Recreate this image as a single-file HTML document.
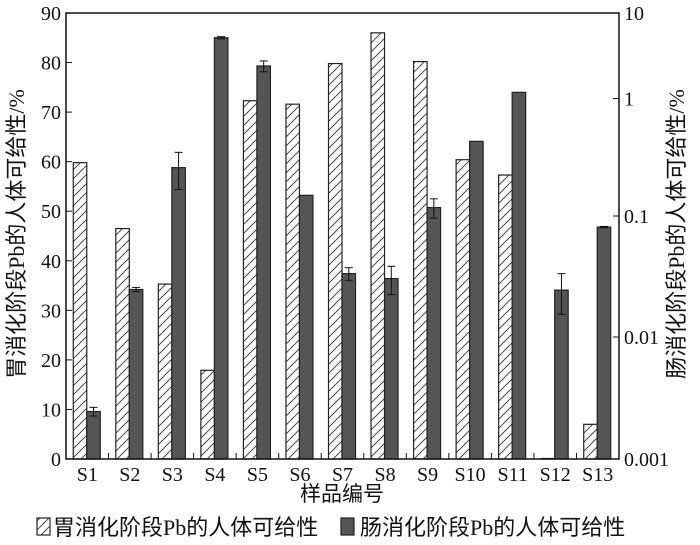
<!DOCTYPE html>
<html><head><meta charset="utf-8"><style>
html,body{margin:0;padding:0;background:#fff;}
svg{display:block;font-family:"Liberation Serif","Noto Serif CJK SC",serif;}
.cjk{font-family:"Liberation Serif","Noto Sans CJK SC",sans-serif;}
</style></head><body>
<svg id="chart" width="700" height="545" viewBox="0 0 700 545" xmlns="http://www.w3.org/2000/svg">
<defs>
<pattern id="hatch" patternUnits="userSpaceOnUse" width="9" height="9">
<path d="M-2,11 L11,-2 M-2,2 L2,-2 M7,11 L11,7" stroke="#333" stroke-width="0.9"/>
</pattern>
</defs>
<g id="plot"></g>
</svg>
<script>
const categories = ["S1","S2","S3","S4","S5","S6","S7","S8","S9","S10","S11","S12","S13"];
const stomachValues = [59.8,46.5,35.3,17.9,72.3,71.6,79.8,86.0,80.2,60.4,57.3,0.1,7.0];
const intestineValues = [0.00245,0.0247,0.258,5.14,2.4,0.15,0.0334,0.0304,0.118,0.432,1.18,0.0244,0.081];
const intestineErrors = [0.0002,0.001,0.09,0.15,0.35,0,0.004,0.008,0.022,0,0,0.009,0.001];
const leftTicks = [0,10,20,30,40,50,60,70,80,90];
const rightTicks = [0.001,0.01,0.1,1,10];
const rightTickLabels = ["0.001","0.01","0.1","1","10"];

const NS="http://www.w3.org/2000/svg";
const g=document.getElementById('plot');
const X0=66,X1=619,Y0=459,Y1=13;
const rightTickPos=[459,337,216,98.5,13];
function mk(t,a,p){const e=document.createElementNS(NS,t);for(const k in a)e.setAttribute(k,a[k]);(p||g).appendChild(e);return e;}
function yLeft(v){return Y0-(v-0)/(90-0)*(Y0-Y1);}
function yRight(v){
  const lv=Math.log10(Math.max(v,1e-6));
  for(let i=0;i<rightTicks.length-1;i++){
    const a=Math.log10(rightTicks[i]),b=Math.log10(rightTicks[i+1]);
    if(lv<=b||i===rightTicks.length-2){return rightTickPos[i]+(lv-a)/(b-a)*(rightTickPos[i+1]-rightTickPos[i]);}
  }
}
const gw=(X1-X0)/categories.length;
function xc(i){return X0+gw*(i+0.5);}
const bw=13.5;

categories.forEach((c,i)=>{
  const cx=xc(i);
  const ys=yLeft(stomachValues[i]);
  const r1=mk('rect',{x:cx-bw-0.5,y:ys,width:bw,height:Y0-ys,fill:'url(#hatch)',stroke:'#222','stroke-width':1.2});
  
  
  const yi=yRight(intestineValues[i]);
  const r2=mk('rect',{x:cx-0.5,y:yi,width:bw,height:Y0-yi,fill:'#555',stroke:'#222','stroke-width':1.2});
  
  
  const e=intestineErrors[i];
  if(e>0){
    const ex=cx-0.5+bw/2;
    const yt=yRight(intestineValues[i]+e),yb=yRight(Math.max(intestineValues[i]-e,1e-6));
    const eg=mk('g',{stroke:'#111','stroke-width':1});
    
    
    mk('line',{x1:ex,x2:ex,y1:yt,y2:yb},eg);
    mk('line',{x1:ex-4,x2:ex+4,y1:yt,y2:yt},eg);
    mk('line',{x1:ex-4,x2:ex+4,y1:yb,y2:yb},eg);
  }
  const t=mk('text',{x:cx,y:481,'text-anchor':'middle','font-size':20,fill:'#111'});
  t.textContent=c;
  
  
  if(i>0){mk('line',{x1:X0+gw*i,x2:X0+gw*i,y1:Y0,y2:Y0-6,stroke:'#111','stroke-width':1});}
});

const frame=mk('rect',{x:X0,y:Y1,width:X1-X0,height:Y0-Y1,fill:'none',stroke:'#111','stroke-width':1.5});



leftTicks.forEach(v=>{
  const y=yLeft(v);
  mk('line',{x1:X0,x2:X0+6,y1:y,y2:y,stroke:'#111','stroke-width':1});
  const t=mk('text',{x:X0-5,y:y+7,'text-anchor':'end','font-size':20,fill:'#111'});
  t.textContent=v;
  
  
});
rightTicks.forEach((v,i)=>{
  const y=yRight(v);
  mk('line',{x1:X1,x2:X1-6,y1:y,y2:y,stroke:'#111','stroke-width':1});
  const t=mk('text',{x:X1+5,y:y+7,'font-size':20,fill:'#111'});
  t.textContent=rightTickLabels[i];
  
  
});

let t=mk('text',{x:0,y:0,'text-anchor':'middle','font-size':22,fill:'#111',class:'cjk',transform:'translate(24,234) rotate(-90)'});
t.textContent='胃消化阶段Pb的人体可给性/%';


t=mk('text',{x:0,y:0,'text-anchor':'middle','font-size':22,fill:'#111',class:'cjk',transform:'translate(684,234) rotate(-90)'});
t.textContent='肠消化阶段Pb的人体可给性/%';


t=mk('text',{x:342,y:501,'text-anchor':'middle','font-size':21,fill:'#111',class:'cjk'});
t.textContent='样品编号';



const lg=mk('g',{});


mk('rect',{x:37,y:518,width:13,height:17,fill:'url(#hatch)',stroke:'#222','stroke-width':1.2},lg);
t=mk('text',{x:53,y:535,'font-size':22,fill:'#111',class:'cjk'},lg);
t.textContent='胃消化阶段Pb的人体可给性';


mk('rect',{x:341,y:518,width:13,height:17,fill:'#555',stroke:'#222','stroke-width':1.2},lg);
t=mk('text',{x:360,y:535,'font-size':22,fill:'#111',class:'cjk'},lg);
t.textContent='肠消化阶段Pb的人体可给性';


</script>
</body></html>
